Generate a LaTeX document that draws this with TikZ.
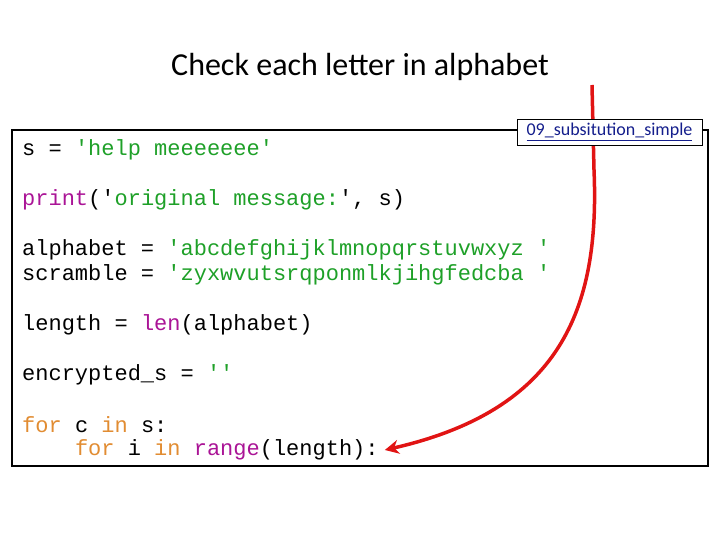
\documentclass[tikz,border=0pt]{standalone}
\usepackage{fontspec}
\setmainfont{Carlito}
\newfontfamily\codefont{Liberation Mono}
\usetikzlibrary{positioning, arrows.meta}
\definecolor{strgreen}{RGB}{30,160,40}
\definecolor{fnpurple}{RGB}{170,20,150}
\definecolor{kworange}{RGB}{225,140,50}
\definecolor{linkblue}{RGB}{20,30,140}
\definecolor{arrowred}{RGB}{225,20,20}
\tikzset{
  codeline/.style={anchor=west, inner sep=0pt, font=\codefont\fontsize{22}{26}\selectfont},
}
\newcommand{\St}[1]{\textcolor{strgreen}{#1}}
\newcommand{\Fn}[1]{\textcolor{fnpurple}{#1}}
\newcommand{\Kw}[1]{\textcolor{kworange}{#1}}
\begin{document}
\begin{tikzpicture}[x=1pt,y=-1pt]
	\useasboundingbox (0,0) rectangle (720,540);
	\node (title) at (360,67) {\fontsize{32}{36}\selectfont Check each letter in alphabet};
	\draw[line width=2.2pt] (12,130) rectangle (708,466);
	% code lines
	\node[codeline] (l1) at (22,150) {s = \St{'help meeeeeee'}};
	\node[codeline] (l2) at (22,200) {\Fn{print}('\St{original message:}', s)};
	\node[codeline] (l3) at (22,250) {alphabet = \St{'abcdefghijklmnopqrstuvwxyz '}};
	\node[codeline] (l4) at (22,275) {scramble = \St{'zyxwvutsrqponmlkjihgfedcba '}};
	\node[codeline] (l5) at (22,325) {length = \Fn{len}(alphabet)};
	\node[codeline] (l6) at (22,375) {encrypted\_s = \St{''}};
	\node[codeline] (l7) at (22,425) {\Kw{for} c \Kw{in} s:};
	\node[codeline] (l8) at (22,450) {\phantom{xxxx}\Kw{for} i \Kw{in} \Fn{range}(length):};
	% arrow
	\coordinate (start) at (592,85);
	\draw[arrowred, line width=3.5pt, -{Stealth[length=14pt,width=14pt]}]
	  (start) -- (594,170) .. controls (600,310) and (560,410) .. ([xshift=6pt]l8.east);
	\node[draw, fill=white, inner sep=3pt, minimum width=185pt, minimum height=26pt,
	      font=\fontsize{18}{20}\selectfont, text=linkblue] (link) at (609.5,132)
	  {\underline{09\_subsitution\_simple}};
\end{tikzpicture}
\end{document}
